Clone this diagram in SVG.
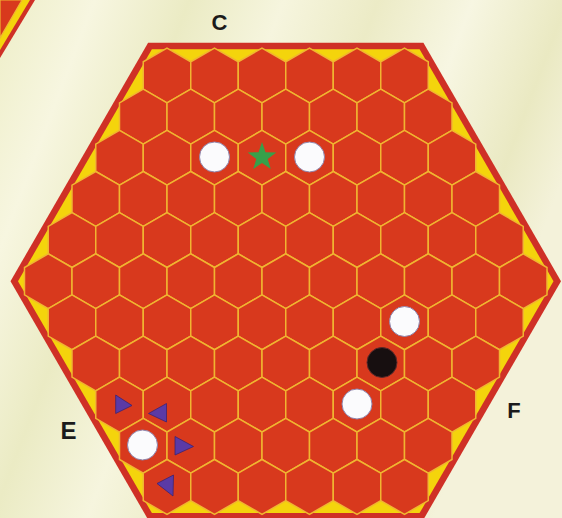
<svg xmlns="http://www.w3.org/2000/svg" xmlns:xlink="http://www.w3.org/1999/xlink" width="562" height="518" viewBox="0 0 562 518">
<style>
.cell{fill:#d8391d;stroke:#f0b531;stroke-width:1.5}
.band{fill:#cf3026}
.yel{fill:#f4d40c}
.white{fill:#fbfbfd;stroke:#8e84ac;stroke-width:1}
.black{fill:#170f10;stroke:#5a2a2a;stroke-width:1}
.tri{fill:#5b3aa6;stroke:#3e2370;stroke-width:0.8}
.lbl{font-family:"Liberation Sans",Arial,sans-serif;font-weight:bold;fill:#1b1b1b}
</style>
<defs>
<polygon id="hx" points="0,-27.42 23.75,-13.71 23.75,13.71 0,27.42 -23.75,13.71 -23.75,-13.71"/>
<linearGradient id="bg" x1="0" y1="0" x2="1" y2="0.35">
<stop offset="0" stop-color="#eeeec8"/>
<stop offset="0.15" stop-color="#f7f6e0"/>
<stop offset="0.3" stop-color="#ebebc4"/>
<stop offset="0.45" stop-color="#f6f5de"/>
<stop offset="0.6" stop-color="#ecebc6"/>
<stop offset="0.75" stop-color="#f7f6e2"/>
<stop offset="0.9" stop-color="#eae9c2"/>
<stop offset="1" stop-color="#f4f2da"/>
</linearGradient>
</defs>
<rect width="562" height="518" fill="url(#bg)"/>
<g id="corner-board">
<polygon class="band" points="0,0 35,0 0,58"/>
<polygon class="yel" points="0,0 30,0 0,50"/>
<polygon fill="#d8391d" stroke="#f0b531" stroke-width="1.2" points="0,0 22,0 0,38"/>
</g>
<g id="board">
<polygon class="band" points="148.1,42.8 423.4,42.8 561,281.2 423.4,519.6 148.1,519.6 10.5,281.2"/>
<polygon class="yel" points="151.9,49.3 419.6,49.3 553.5,281.2 419.6,513.1 151.9,513.1 18,281.2"/>
<g id="cells" class="cell">
<g transform="translate(0,75.5)"><use href="#hx" x="167"/><use href="#hx" x="214.5"/><use href="#hx" x="262"/><use href="#hx" x="309.5"/><use href="#hx" x="357"/><use href="#hx" x="404.5"/></g>
<g transform="translate(0,116.64)"><use href="#hx" x="143.25"/><use href="#hx" x="190.75"/><use href="#hx" x="238.25"/><use href="#hx" x="285.75"/><use href="#hx" x="333.25"/><use href="#hx" x="380.75"/><use href="#hx" x="428.25"/></g>
<g transform="translate(0,157.78)"><use href="#hx" x="119.5"/><use href="#hx" x="167"/><use href="#hx" x="214.5"/><use href="#hx" x="262"/><use href="#hx" x="309.5"/><use href="#hx" x="357"/><use href="#hx" x="404.5"/><use href="#hx" x="452"/></g>
<g transform="translate(0,198.92)"><use href="#hx" x="95.75"/><use href="#hx" x="143.25"/><use href="#hx" x="190.75"/><use href="#hx" x="238.25"/><use href="#hx" x="285.75"/><use href="#hx" x="333.25"/><use href="#hx" x="380.75"/><use href="#hx" x="428.25"/><use href="#hx" x="475.75"/></g>
<g transform="translate(0,240.06)"><use href="#hx" x="72"/><use href="#hx" x="119.5"/><use href="#hx" x="167"/><use href="#hx" x="214.5"/><use href="#hx" x="262"/><use href="#hx" x="309.5"/><use href="#hx" x="357"/><use href="#hx" x="404.5"/><use href="#hx" x="452"/><use href="#hx" x="499.5"/></g>
<g transform="translate(0,281.2)"><use href="#hx" x="48.25"/><use href="#hx" x="95.75"/><use href="#hx" x="143.25"/><use href="#hx" x="190.75"/><use href="#hx" x="238.25"/><use href="#hx" x="285.75"/><use href="#hx" x="333.25"/><use href="#hx" x="380.75"/><use href="#hx" x="428.25"/><use href="#hx" x="475.75"/><use href="#hx" x="523.25"/></g>
<g transform="translate(0,322.34)"><use href="#hx" x="72"/><use href="#hx" x="119.5"/><use href="#hx" x="167"/><use href="#hx" x="214.5"/><use href="#hx" x="262"/><use href="#hx" x="309.5"/><use href="#hx" x="357"/><use href="#hx" x="404.5"/><use href="#hx" x="452"/><use href="#hx" x="499.5"/></g>
<g transform="translate(0,363.48)"><use href="#hx" x="95.75"/><use href="#hx" x="143.25"/><use href="#hx" x="190.75"/><use href="#hx" x="238.25"/><use href="#hx" x="285.75"/><use href="#hx" x="333.25"/><use href="#hx" x="380.75"/><use href="#hx" x="428.25"/><use href="#hx" x="475.75"/></g>
<g transform="translate(0,404.62)"><use href="#hx" x="119.5"/><use href="#hx" x="167"/><use href="#hx" x="214.5"/><use href="#hx" x="262"/><use href="#hx" x="309.5"/><use href="#hx" x="357"/><use href="#hx" x="404.5"/><use href="#hx" x="452"/></g>
<g transform="translate(0,445.76)"><use href="#hx" x="143.25"/><use href="#hx" x="190.75"/><use href="#hx" x="238.25"/><use href="#hx" x="285.75"/><use href="#hx" x="333.25"/><use href="#hx" x="380.75"/><use href="#hx" x="428.25"/></g>
<g transform="translate(0,486.9)"><use href="#hx" x="167"/><use href="#hx" x="214.5"/><use href="#hx" x="262"/><use href="#hx" x="309.5"/><use href="#hx" x="357"/><use href="#hx" x="404.5"/></g>
</g>
</g>
<g id="pieces">
<circle id="w1" class="white" cx="214.5" cy="157" r="15"/>
<circle id="w2" class="white" cx="309.5" cy="157" r="15"/>
<circle id="w3" class="white" cx="404.5" cy="321.5" r="15"/>
<circle id="w4" class="white" cx="357" cy="404" r="15"/>
<circle id="w5" class="white" cx="142.5" cy="445" r="15"/>
<circle id="b1" class="black" cx="382" cy="362.5" r="15"/>
<polygon id="star" fill="#37a04a" points="262,142 265.5,152.2 276.3,152.4 267.7,158.9 270.8,169.1 262,163 253.2,169.1 256.3,158.9 247.7,152.4 258.5,152.2"/>
<polygon id="t1" class="tri" points="115.7,395 115.7,413.5 132,405.5"/>
<polygon id="t2" class="tri" points="148.5,413.5 166.5,403.5 166.5,422"/>
<polygon id="t3" class="tri" points="175,436.5 175,455 193.5,446.5"/>
<polygon id="t4" class="tri" points="157,483.5 173.5,475 173,496"/>
</g>
<g id="labels">
<text class="lbl" x="219.5" y="30" font-size="22" text-anchor="middle">C</text>
<text class="lbl" x="68.5" y="438.5" font-size="24" text-anchor="middle">E</text>
<text class="lbl" x="514" y="418" font-size="22" text-anchor="middle">F</text>
</g>
</svg>
